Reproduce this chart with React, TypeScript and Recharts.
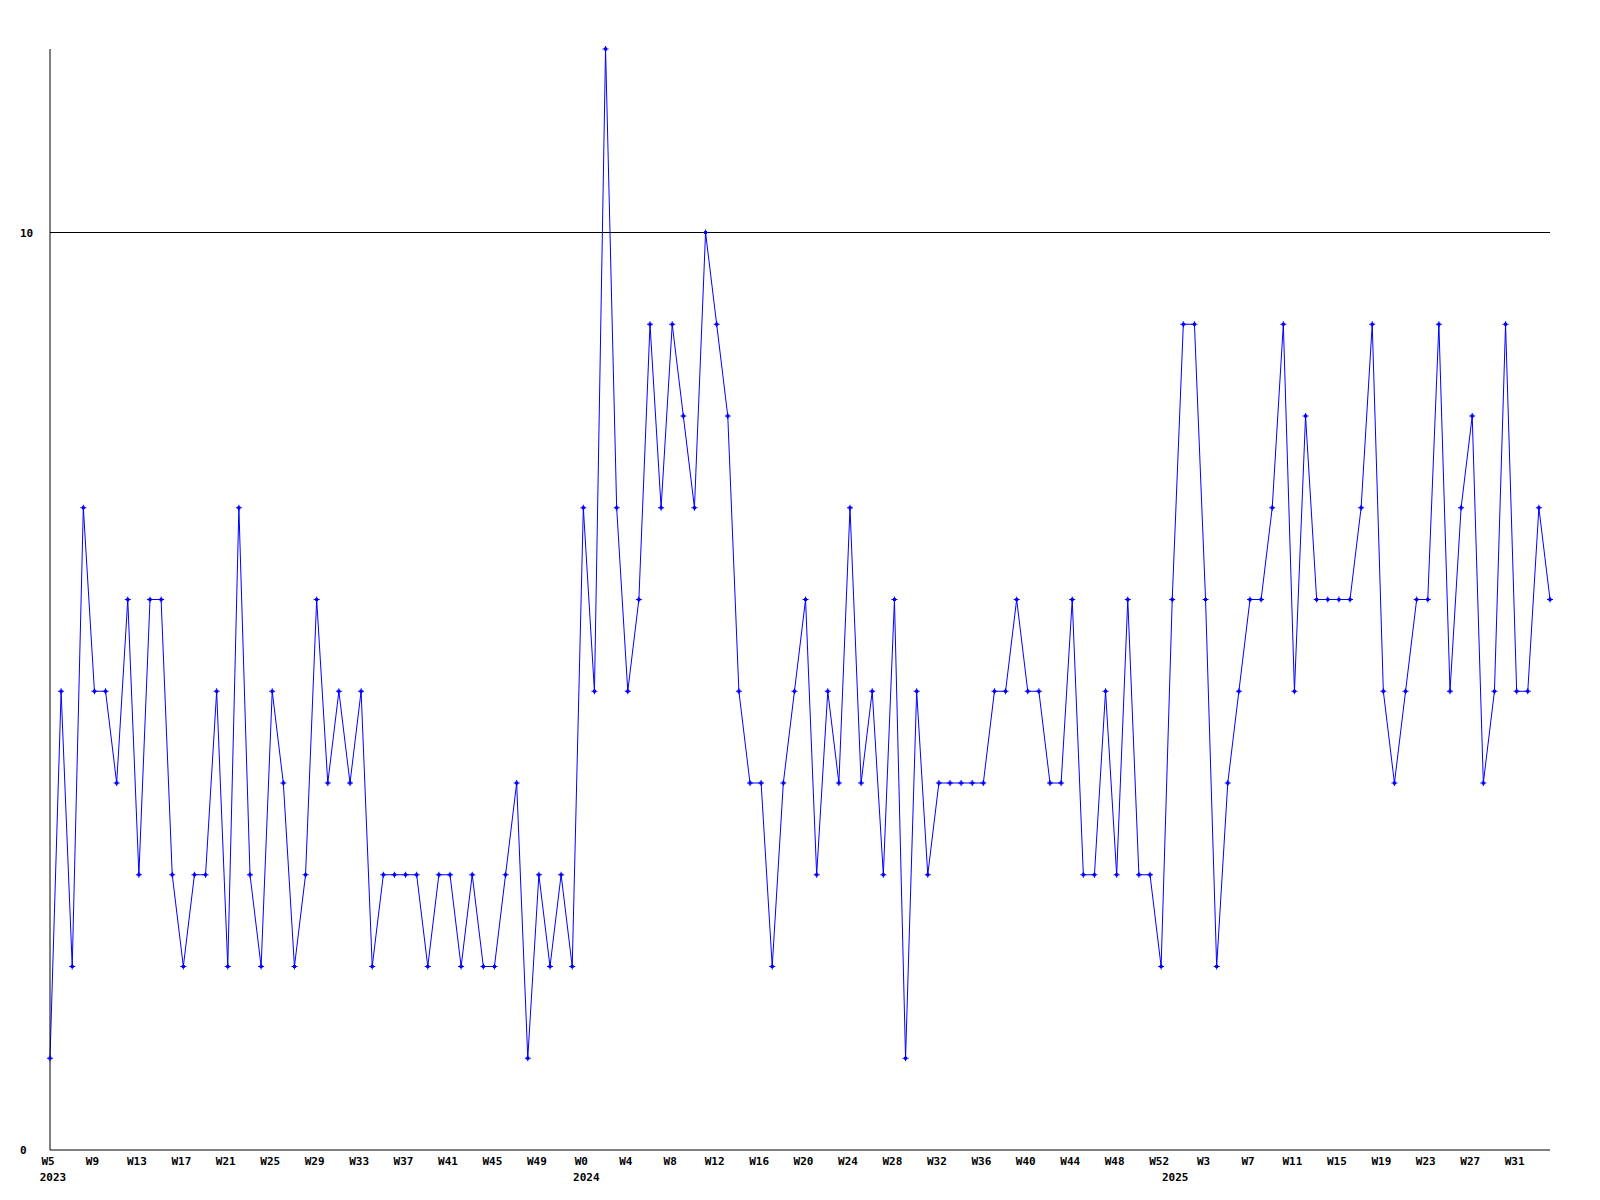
import { CartesianGrid, Line, LineChart, ReferenceLine, XAxis, YAxis } from "recharts";

// weekly counts
const values2023: number[] = [
  1, 5, 2, 7, 5, 5, 4, 6, 3, 6,
  6, 3, 2, 3, 3, 5, 2, 7, 3, 2,
  5, 4, 2, 3, 6, 4, 5, 4, 5, 2,
  3, 3, 3, 3, 2, 3, 3, 2, 3, 2,
  2, 3, 4, 1, 3, 2, 3, 2,
];
const values2024: number[] = [
  7, 5,
  12, 7, 5, 6, 9, 7, 9, 8, 7, 10,
  9, 8, 5, 4, 4, 2, 4, 5, 6, 3,
  5, 4, 7, 4, 5, 3, 6, 1, 5, 3,
  4, 4, 4, 4, 4, 5, 5, 6, 5, 5,
  4, 4, 6, 3, 3, 5, 3, 6, 3, 3, 2,
];
const values2025: number[] = [
  6, 9, 9, 6, 2, 4, 5, 6, 6, 7,
  9, 5, 8, 6, 6, 6, 6, 7, 9, 5,
  4, 5, 6, 6, 9, 5, 7, 8, 4, 5,
  9, 5, 5, 7, 6,
];

const years = [2023, 2024, 2025];
const firstWeeks = [5, 0, 0];
const yTicks = [0, 10];

interface IPoint {
  key: string;
  week: string;
  year: string;
  showWeek: boolean;
  value: number;
}

const data: IPoint[] = [];
[values2023, values2024, values2025].forEach((vals, yi) => {
  vals.forEach((v, i) => {
    const idx = data.length;
    data.push({
      key: `${ years[yi] }-W${ firstWeeks[yi] + i }`,
      week: `W${ firstWeeks[yi] + i }`,
      year: i === 0 ? String(years[yi]) : '',
      showWeek: idx % 4 === 0,
      value: v,
    });
  });
});

const byKey = new Map(data.map(d => [d.key, d]));

const font = { fontFamily: '"DejaVu Sans Mono", monospace', fontSize: 11, fontWeight: 'bold' as const };

const XTick = (props: any) => {
  const { x, y, payload } = props;
  const d = byKey.get(payload.value);
  if (!d) return null;
  return <g>
    { d.showWeek && <text x={ x - 2 } y={ y + 15 } textAnchor="middle" fill="#000" { ...font }>{ d.week }</text> }
    { d.year && <text x={ x + 3 } y={ y + 31 } textAnchor="middle" fill="#000" { ...font }>{ d.year }</text> }
  </g>
};

const YTick = (props: any) => {
  const { y, payload } = props;
  return <text x={ 12 } y={ y + 4 } textAnchor="start" fill="#000" { ...font }>{ payload.value }</text>
};

const Marker = (props: any) => {
  const { cx, cy, index } = props;
  if (cx == null || cy == null) return <g key={ `m-${ index }` }/>;
  return <g key={ `m-${ index }` }>
    <line x1={ cx - 3 } y1={ cy } x2={ cx + 3 } y2={ cy } stroke="#0000ff" strokeWidth={ 1 }/>
    <line x1={ cx } y1={ cy - 3 } x2={ cx } y2={ cy + 3 } stroke="#0000ff" strokeWidth={ 1 }/>
    <rect x={ cx - 1.5 } y={ cy - 1.5 } width={ 3 } height={ 3 } fill="#0000ff"/>
  </g>
};

function App() {
  return (
    <LineChart
      width={ 1584 }
      height={ 1184 }
      data={ data }
      margin={ { top: 41, right: 42, left: 12, bottom: 2 } }
      style={ { background: '#fff' } }
    >
      <CartesianGrid horizontal={ false } vertical={ false }/>
      <XAxis
        dataKey="key"
        type="category"
        interval={ 0 }
        height={ 40 }
        tickLine={ false }
        tickSize={ 0 }
        tickMargin={ 0 }
        axisLine={ { stroke: '#000', strokeWidth: 1 } }
        tick={ <XTick/> }
        padding={ { left: 0, right: 0 } }
      />
      <YAxis
        width={ 30 }
        domain={ [0, 12] }
        ticks={ yTicks }
        tickLine={ false }
        tickSize={ 0 }
        axisLine={ { stroke: '#000', strokeWidth: 1 } }
        tick={ <YTick/> }
      />
      <ReferenceLine y={ 10 } stroke="#000" strokeWidth={ 1 }/>
      <Line
        type="linear"
        dataKey="value"
        stroke="#0000ff"
        strokeWidth={ 1 }
        dot={ <Marker/> }
        activeDot={ false }
        isAnimationActive={ false }
      />
    </LineChart>
  )
}

export default App
